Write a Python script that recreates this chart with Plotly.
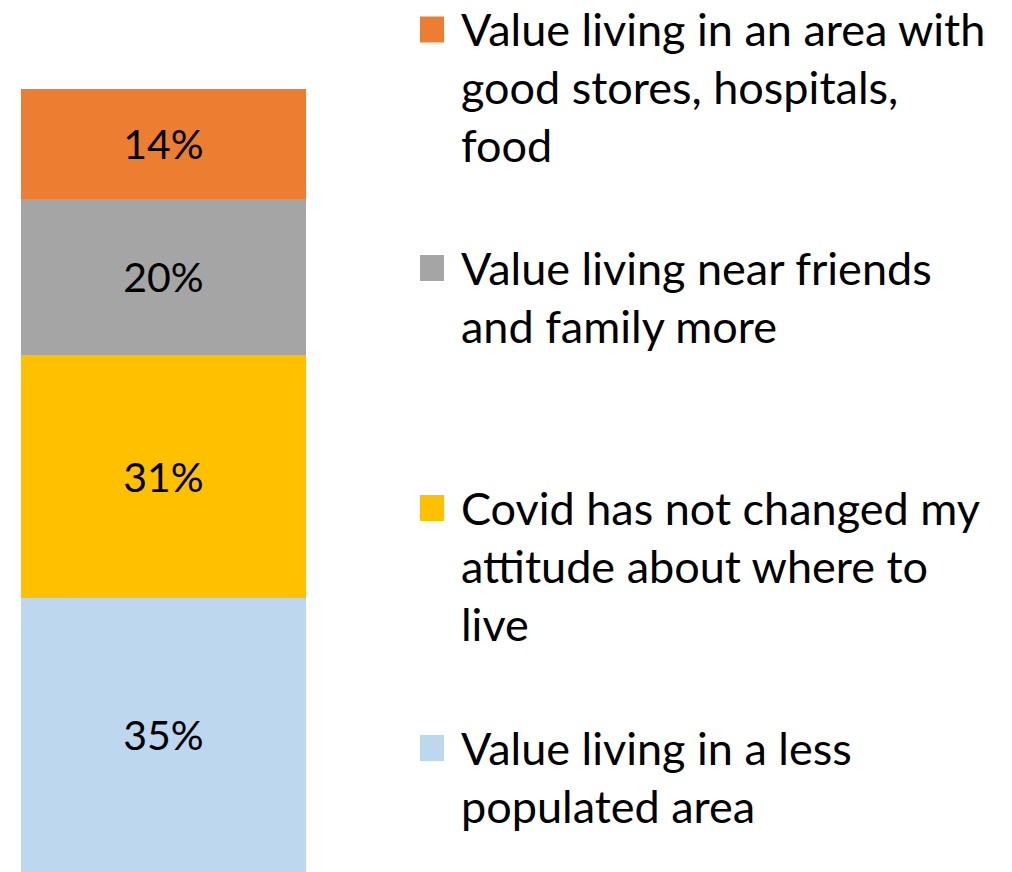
import plotly.graph_objects as go

categories = [
    "Value living in a less populated area",
    "Covid has not changed my attitude about where to live",
    "Value living near friends and family more",
    "Value living in an area with good stores, hospitals, food",
]
values = [35, 31, 20, 14]
colors = ["#BDD7EE", "#FFC000", "#A5A5A5", "#ED7D31"]
legend_lines = [
    ["Value living in a less", "populated area"],
    ["Covid has not changed my", "attitude about where to", "live"],
    ["Value living near friends", "and family more"],
    ["Value living in an area with", "good stores, hospitals,", "food"],
]

W, H = 1012, 872
FONT = "Lato, 'Open Sans', sans-serif"


def px(x):
    return x / W


def py(y):
    return 1 - y / H


fig = go.Figure()
for cat, val, col in zip(categories, values, colors):
    fig.add_trace(go.Bar(
        x=[0], y=[val], name=cat, marker=dict(color=col, line=dict(width=0)),
        width=1, texttemplate="%{y}%", textposition="inside",
        insidetextanchor="middle", textangle=0,
        textfont=dict(family=FONT, size=41, color="black"),
        hoverinfo="skip", showlegend=False,
    ))

bar_top_px = 89
total = sum(values)
ymax = total * H / (H - bar_top_px)

shapes = []
annotations = []
first_line_centers = [748, 508, 268, 29.5]
line_gap = 58
for i, (lines, col) in enumerate(zip(legend_lines, colors)):
    yc = first_line_centers[i]
    shapes.append(dict(type="rect", xref="paper", yref="paper",
                       x0=px(420), x1=px(444),
                       y0=py(yc - 13), y1=py(yc + 13),
                       fillcolor=col, line=dict(width=0)))
    for j, t in enumerate(lines):
        annotations.append(dict(
            text=t, xref="paper", yref="paper", x=px(459),
            y=py(yc + j * line_gap), xanchor="left", yanchor="middle",
            showarrow=False, font=dict(family=FONT, size=45, color="black"),
        ))

fig.update_layout(
    width=W, height=H, barmode="stack",
    margin=dict(l=0, r=0, t=0, b=0),
    paper_bgcolor="white", plot_bgcolor="white",
    xaxis=dict(domain=[px(21), px(306)], range=[-0.5, 0.5], visible=False, fixedrange=True),
    yaxis=dict(range=[0, ymax], visible=False, fixedrange=True),
    shapes=shapes, annotations=annotations,
    uniformtext=dict(mode=False),
    hovermode=False,
)

fig.write_html(
    "out.html",
    config={"displayModeBar": False},
    post_script="document.body.style.margin='0';document.body.style.overflow='hidden';",
)
